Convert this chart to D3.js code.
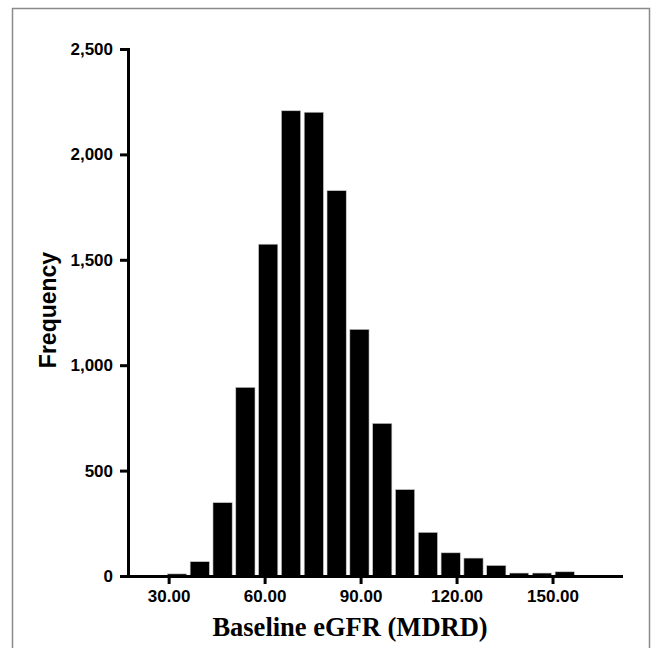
<!DOCTYPE html>
<html>
<head>
<meta charset="utf-8">
<script src="https://cdn.jsdelivr.net/npm/d3@7"></script>
<style>
  body { margin: 0; background: #fff; }
  svg { display: block; }
  .axis path, .axis line { stroke: #000; stroke-width: 3; }
  .axis text { font-family: "Liberation Sans", Arial, sans-serif; font-weight: bold; font-size: 17px; fill: #000; }
</style>
</head>
<body>
<svg id="hist-svg"></svg>
<script>
// bin lower edges (last value closes the final bin)
const binEdges = [29.6, 36.73, 43.86, 50.99, 58.12, 65.25, 72.38, 79.51, 86.64, 93.77,
                  100.9, 108.03, 115.16, 122.29, 129.42, 136.55, 143.68, 150.81, 157.94];
const frequencies = [10, 68, 348, 895, 1574, 2207, 2200, 1828, 1170, 724,
                     410, 207, 110, 85, 50, 14, 14, 20];
const yTicks = [0, 500, 1000, 1500, 2000, 2500];
const xTicks = [30, 60, 90, 120, 150];

const bins = frequencies.map((f, i) => ({ x0: binEdges[i], x1: binEdges[i + 1], count: f }));

const W = 656, H = 648;
const margin = { top: 49, right: 35, bottom: 72, left: 128 },
  width = W - margin.left - margin.right,
  height = H - margin.top - margin.bottom;

const root = d3.select("#hist-svg")
  .attr("width", W)
  .attr("height", H);

// outer frame
root.append("rect")
  .attr("x", 12.5)
  .attr("y", 8.5)
  .attr("width", 637)
  .attr("height", 660)
  .attr("fill", "none")
  .attr("stroke", "#8a8a8a")
  .attr("stroke-width", 1.5);

const svg = root.append("g")
  .attr("transform", `translate(${margin.left},${margin.top})`);

const x = d3.scaleLinear()
  .domain([17.3, 171.4])
  .range([0, width]);

const y = d3.scaleLinear()
  .domain([0, 2500])
  .range([height, 0]);

// bars
svg.selectAll(".bar")
  .data(bins)
  .join("rect")
  .attr("class", "bar")
  .attr("x", d => x(d.x0))
  .attr("y", d => y(d.count))
  .attr("width", d => x(d.x1) - x(d.x0) - 3.6)
  .attr("height", d => y(0) - y(d.count))
  .attr("fill", "#000")
  .attr("stroke", "#c8c8c8")
  .attr("stroke-width", 0.6);

// y axis
svg.append("g")
  .attr("class", "axis y-axis")
  .call(d3.axisLeft(y).tickValues(yTicks).tickFormat(d3.format(",")).tickSize(8).tickSizeOuter(0).tickPadding(7));

// x axis
svg.append("g")
  .attr("class", "axis x-axis")
  .attr("transform", `translate(0,${height})`)
  .call(d3.axisBottom(x).tickValues(xTicks).tickFormat(d3.format(".2f")).tickSize(8).tickSizeOuter(0).tickPadding(6));

svg.selectAll(".axis .domain").attr("stroke-linecap", "square");

// Y-axis label
root.append("text")
  .attr("transform", "translate(56,310) rotate(-90)")
  .attr("text-anchor", "middle")
  .style("font-family", "'Liberation Sans', Arial, sans-serif")
  .style("font-weight", "bold")
  .style("font-size", "23px")
  .text("Frequency");

// X-axis label
root.append("text")
  .attr("x", 350)
  .attr("y", 636)
  .attr("text-anchor", "middle")
  .style("font-family", "'Liberation Serif', 'Times New Roman', serif")
  .style("font-weight", "bold")
  .style("font-size", "26.5px")
  .text("Baseline eGFR (MDRD)");
</script>
</body>
</html>
